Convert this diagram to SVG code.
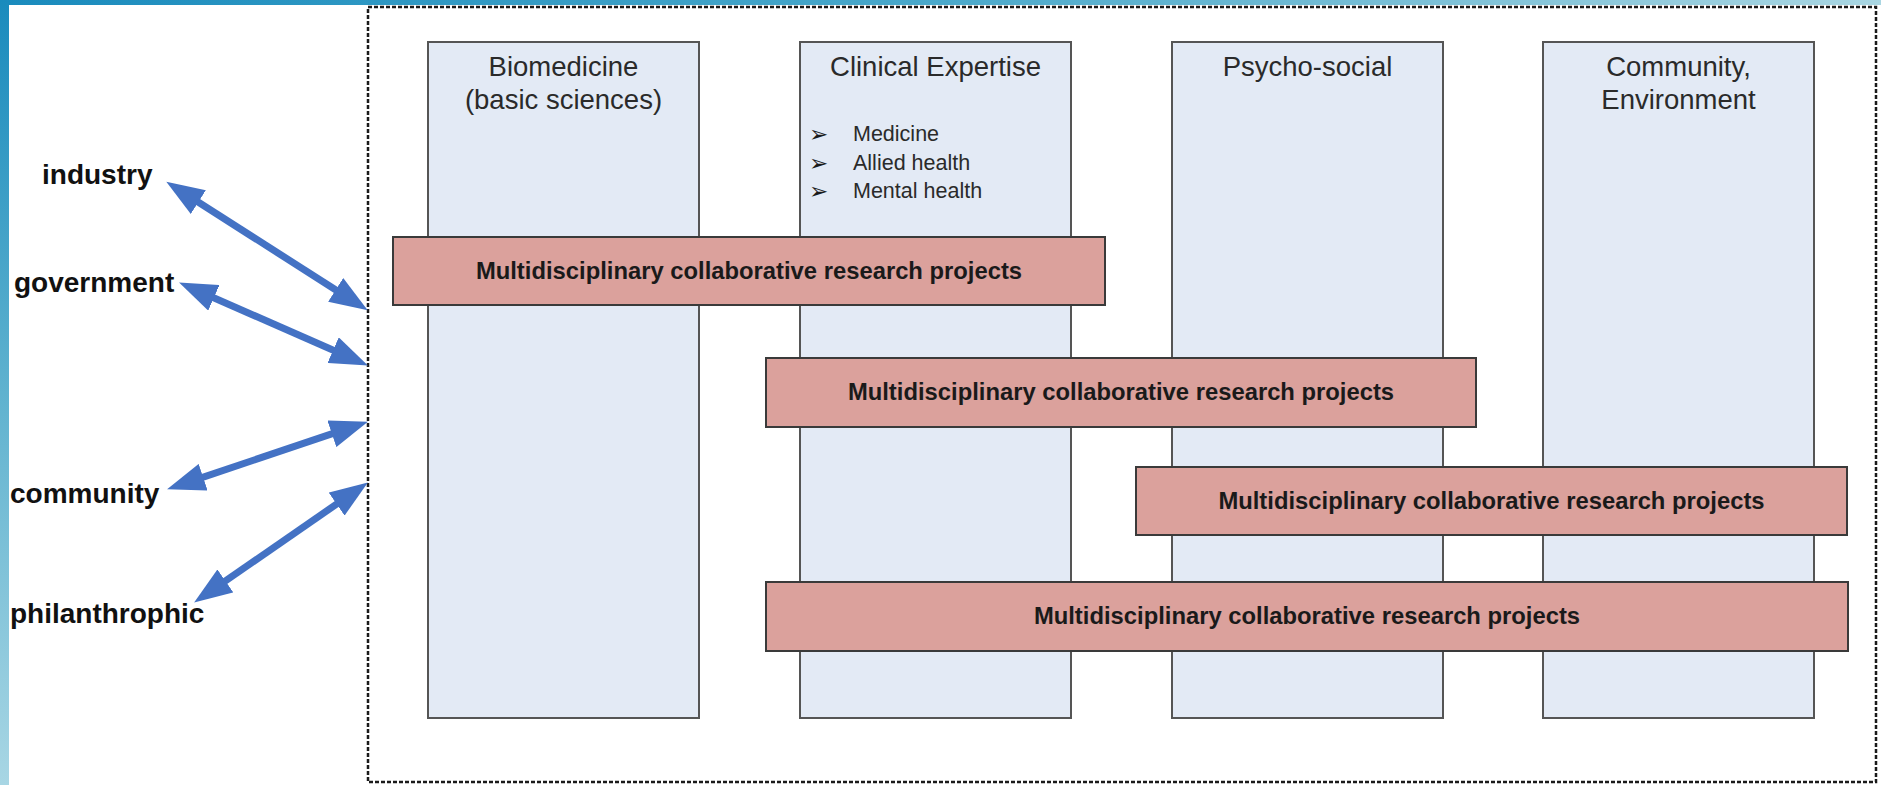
<svg xmlns="http://www.w3.org/2000/svg" width="1881" height="785" viewBox="0 0 1881 785">
  <defs>
    <linearGradient id="gTop" x1="0" y1="0" x2="1" y2="0">
      <stop offset="0" stop-color="#1a8bbd"/>
      <stop offset="0.5" stop-color="#4aa9cb"/>
      <stop offset="1" stop-color="#a9d6e2"/>
    </linearGradient>
    <linearGradient id="gLeft" x1="0" y1="0" x2="0" y2="1">
      <stop offset="0" stop-color="#1a8bbd"/>
      <stop offset="0.5" stop-color="#5fb2cf"/>
      <stop offset="1" stop-color="#a8d6e4"/>
    </linearGradient>
    <marker id="ah" markerUnits="userSpaceOnUse" markerWidth="38" markerHeight="28" viewBox="0 0 38 28" refX="17" refY="14" orient="auto-start-reverse">
      <path d="M0,0 L38,14 L0,28 z" fill="#4472c4"/>
    </marker>
    <style>
      .col { fill: #e3eaf5; stroke: #555; stroke-width: 2; }
      .bar { fill: #dba19c; stroke: #3a3a3a; stroke-width: 2; }
      .title { font-family: "Liberation Sans", Arial, sans-serif; font-size: 27.5px; fill: #2a2a2a; text-anchor: middle; }
      .bul { font-family: "Liberation Sans", Arial, sans-serif; font-size: 21.5px; fill: #2a2a2a; }
      .arr { font-family: "DejaVu Sans", sans-serif; font-size: 23px; fill: #1a1a1a; }
      .bt { font-family: "Liberation Sans", Arial, sans-serif; font-size: 23.8px; font-weight: bold; fill: #1a1a1a; text-anchor: middle; }
      .lbl { font-family: "Liberation Sans", Arial, sans-serif; font-size: 28px; font-weight: bold; fill: #111; }
      .link { stroke: #4472c4; stroke-width: 7; fill: none; marker-start: url(#ah); marker-end: url(#ah); }
    </style>
  </defs>

  <rect x="0" y="0" width="1881" height="785" fill="#ffffff"/>
  <rect x="0" y="0" width="1881" height="5" fill="url(#gTop)"/>
  <rect x="0" y="0" width="9" height="785" fill="url(#gLeft)"/>

  <rect id="frame" x="368" y="7" width="1508" height="775" fill="none" stroke="#1a1a1a" stroke-width="2.5" stroke-dasharray="4 2"/>

  <g id="col-biomedicine">
    <rect class="col" x="428" y="42" width="271" height="676"/>
    <text class="title" x="563.5" y="76">Biomedicine</text>
    <text class="title" x="563.5" y="109">(basic sciences)</text>
  </g>
  <g id="col-clinical">
    <rect class="col" x="800" y="42" width="271" height="676"/>
    <text class="title" x="935.5" y="76">Clinical Expertise</text>
    <text class="arr" x="809" y="142">➢</text>
    <text class="bul" x="853" y="141">Medicine</text>
    <text class="arr" x="809" y="170.5">➢</text>
    <text class="bul" x="853" y="169.5">Allied health</text>
    <text class="arr" x="809" y="199">➢</text>
    <text class="bul" x="853" y="198">Mental health</text>
  </g>
  <g id="col-psychosocial">
    <rect class="col" x="1172" y="42" width="271" height="676"/>
    <text class="title" x="1307.5" y="76">Psycho-social</text>
  </g>
  <g id="col-community">
    <rect class="col" x="1543" y="42" width="271" height="676"/>
    <text class="title" x="1678.5" y="76">Community,</text>
    <text class="title" x="1678.5" y="109">Environment</text>
  </g>

  <g id="project-1">
    <rect class="bar" x="393" y="237" width="712" height="68"/>
    <text class="bt" x="749" y="279">Multidisciplinary collaborative research projects</text>
  </g>
  <g id="project-2">
    <rect class="bar" x="766" y="358" width="710" height="69"/>
    <text class="bt" x="1121" y="400">Multidisciplinary collaborative research projects</text>
  </g>
  <g id="project-3">
    <rect class="bar" x="1136" y="467" width="711" height="68"/>
    <text class="bt" x="1491.5" y="509">Multidisciplinary collaborative research projects</text>
  </g>
  <g id="project-4">
    <rect class="bar" x="766" y="582" width="1082" height="69"/>
    <text class="bt" x="1307" y="624">Multidisciplinary collaborative research projects</text>
  </g>

  <g id="label-industry"><text class="lbl" x="42" y="184">industry</text></g>
  <g id="label-government"><text class="lbl" x="14" y="292">government</text></g>
  <g id="label-community"><text class="lbl" x="10" y="503">community</text></g>
  <g id="label-philanthrophic"><text class="lbl" x="10" y="623">philanthrophic</text></g>

  <g id="connectors">
    <line class="link" x1="184.0" y1="193.0" x2="350.0" y2="299.0"/>
    <line class="link" x1="198.3" y1="291.0" x2="348.7" y2="357.0"/>
    <line class="link" x1="187.0" y1="482.6" x2="348.0" y2="428.4"/>
    <line class="link" x1="211.4" y1="590.6" x2="350.6" y2="494.4"/>
  </g>
</svg>
